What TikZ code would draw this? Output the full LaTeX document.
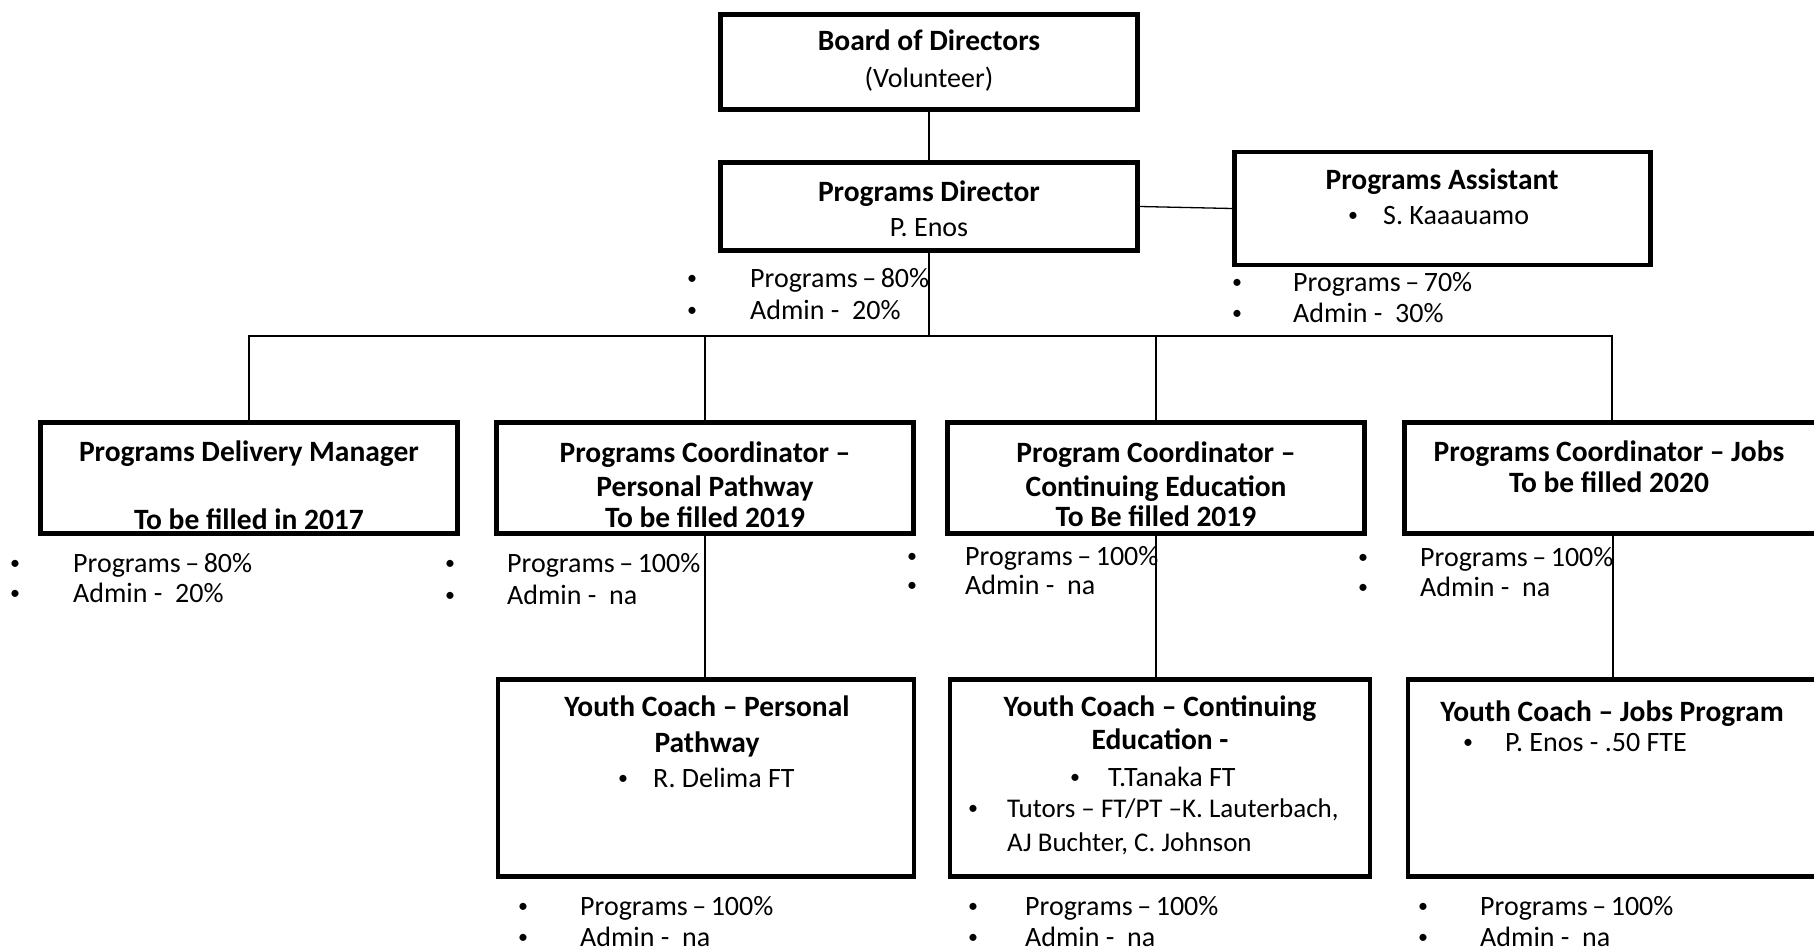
\documentclass[tikz,border=0pt]{standalone}
\usepackage{fontspec}
\setmainfont{Carlito}
\newcommand\dsh{\hspace{4.5pt}–\hspace{4.5pt}}
\tikzset{
  box/.style={draw, line width=4.5pt, inner sep=0pt, fill=none},
  conn/.style={draw, line width=1.3pt},
  t/.style={inner sep=0pt, anchor=base, font=\fontsize{28}{34}\selectfont},
  tb/.style={t, font=\fontsize{29.5}{34}\selectfont\bfseries},
  tl/.style={t, anchor=base west},
  bul/.style={inner sep=0pt, anchor=base, yshift=2.5pt, font=\fontsize{20}{24}\selectfont},
}
\begin{document}
\begin{tikzpicture}[x=1pt,y=-1pt]
\useasboundingbox (0,0) rectangle (1814,950);
\fill[white] (0,0) rectangle (1814,950);

% boxes
\node[box, minimum width=417pt, minimum height=95pt] (board) at (929,62) {};
\node[box, minimum width=417pt, minimum height=88pt] (pd) at (929,206.5) {};
\node[box, minimum width=416pt, minimum height=113pt] (pa) at (1442.5,208.5) {};
\node[box, minimum width=417pt, minimum height=111pt] (pdm) at (249,478) {};
\node[box, minimum width=417pt, minimum height=111pt] (pcpp) at (705,478) {};
\node[box, minimum width=417pt, minimum height=111pt] (pcce) at (1156,478) {};
\node[box, minimum width=413pt, minimum height=111pt] (pcjobs) at (1611,478) {};
\node[box, minimum width=416pt, minimum height=197pt] (ycpp) at (706,778) {};
\node[box, minimum width=420pt, minimum height=197pt] (ycce) at (1160,778) {};
\node[box, minimum width=410pt, minimum height=197pt] (ycjobs) at (1613,778) {};

% connectors
\coordinate (busR) at (1612,336);
\draw[conn] (board.south) -- (pd.north);
\draw[conn] (pd.east) -- (pa.west);
\draw[conn] (pdm.north) |- (busR) -- (busR |- pcjobs.north);
\draw[conn] (pd.south) -- (pd.south |- busR);
\draw[conn] (pcpp.north) -- (pcpp.north |- busR);
\draw[conn] (pcce.north) -- (pcce.north |- busR);
\draw[conn] (pcpp.south) -- (pcpp.south |- ycpp.north);
\draw[conn] (pcce.south) -- (pcce.south |- ycce.north);
\draw[conn] (ycjobs.north) -- (ycjobs.north |- pcjobs.south);

% Board
\node[tb] (boardT1) at (929,51) {Board of Directors};
\node[t]  (boardT2) at (929,87) {(Volunteer)};
% Programs Director
\node[tb] (pdT1) at (929,201) {Programs Director};
\node[t]  (pdT2) at (929,236) {P. Enos};
\node[bul] (pdB1) at (692,287) {•};
\node[bul] (pdB2) at (692,319) {•};
\node[tl] (pdL1) at (750,287) {Programs\dsh 80\%};
\node[tl] (pdL2) at (750,319) {Admin -~ 20\%};
% Programs Assistant
\node[tb] (paT1) at (1442,189) {Programs Assistant};
\node[bul] (paB0) at (1353,224) {•};
\node[tl] (paT2) at (1383,224) {S. Kaaauamo};
\node[bul] (paB1) at (1237,291) {•};
\node[bul] (paB2) at (1237,322) {•};
\node[tl] (paL1) at (1293,291) {Programs\dsh 70\%};
\node[tl] (paL2) at (1293,322) {Admin -~ 30\%};
% Programs Delivery Manager
\node[tb] (pdmT1) at (249,461) {Programs Delivery Manager};
\node[tb] (pdmT2) at (249,529) {To be filled in 2017};
\node[bul] (pdmB1) at (15,572) {•};
\node[bul] (pdmB2) at (15,602) {•};
\node[tl] (pdmL1) at (73,572) {Programs\dsh 80\%};
\node[tl] (pdmL2) at (73,602) {Admin -~ 20\%};
% PC Personal Pathway
\node[tb] (pcppT1) at (705,462) {Programs Coordinator –};
\node[tb] (pcppT2) at (705,496) {Personal Pathway};
\node[tb] (pcppT3) at (705,527) {To be filled 2019};
\node[bul] (pcppB1) at (450,572) {•};
\node[bul] (pcppB2) at (450,604) {•};
\node[tl] (pcppL1) at (507,572) {Programs\dsh 100\%};
\node[tl] (pcppL2) at (507,604) {Admin -~ na};
% PC Continuing Education
\node[tb] (pcceT1) at (1156,462) {Program Coordinator –};
\node[tb] (pcceT2) at (1156,496) {Continuing Education};
\node[tb] (pcceT3) at (1156,526) {To Be filled 2019};
\node[bul] (pcceB1) at (912,565) {•};
\node[bul] (pcceB2) at (912,594) {•};
\node[tl] (pcceL1) at (965,565) {Programs\dsh 100\%};
\node[tl] (pcceL2) at (965,594) {Admin -~ na};
% PC Jobs
\node[tb] (pcjT1) at (1609,461) {Programs Coordinator – Jobs};
\node[tb] (pcjT2) at (1609,492) {To be filled 2020};
\node[bul] (pcjB1) at (1363,566) {•};
\node[bul] (pcjB2) at (1363,596) {•};
\node[tl] (pcjL1) at (1420,566) {Programs\dsh 100\%};
\node[tl] (pcjL2) at (1420,596) {Admin -~ na};
% YC Personal Pathway
\node[tb] (ycppT1) at (707,716) {Youth Coach – Personal};
\node[tb] (ycppT2) at (707,752) {Pathway};
\node[bul] (ycppB0) at (623,787) {•};
\node[tl] (ycppT3) at (653,787) {R. Delima FT};
\node[bul] (ycppB1) at (523,915) {•};
\node[bul] (ycppB2) at (523,946) {•};
\node[tl] (ycppL1) at (580,915) {Programs\dsh 100\%};
\node[tl] (ycppL2) at (580,946) {Admin -~ na};
% YC Continuing Education
\node[tb] (ycceT1) at (1160,716) {Youth Coach – Continuing};
\node[tb] (ycceT2) at (1160,749) {Education -};
\node[bul] (ycceB0) at (1075,786) {•};
\node[tl] (ycceT3) at (1108,786) {T.Tanaka FT};
\node[bul] (ycceB3) at (973,817) {•};
\node[tl, font=\fontsize{27}{34}\selectfont] (ycceT4) at (1007,817) {Tutors – FT/PT –K. Lauterbach,};
\node[tl, font=\fontsize{27}{34}\selectfont] (ycceT5) at (1007,851) {AJ Buchter, C. Johnson};
\node[bul] (ycceB1) at (973,915) {•};
\node[bul] (ycceB2) at (973,946) {•};
\node[tl] (ycceL1) at (1025,915) {Programs\dsh 100\%};
\node[tl] (ycceL2) at (1025,946) {Admin -~ na};
% YC Jobs
\node[tb] (ycjT1) at (1612,721) {Youth Coach – Jobs Program};
\node[bul] (ycjB0) at (1468,751) {•};
\node[tl] (ycjT2) at (1505,751) {P. Enos - .50 FTE};
\node[bul] (ycjB1) at (1423,915) {•};
\node[bul] (ycjB2) at (1423,946) {•};
\node[tl] (ycjL1) at (1480,915) {Programs\dsh 100\%};
\node[tl] (ycjL2) at (1480,946) {Admin -~ na};
\end{tikzpicture}
\end{document}
